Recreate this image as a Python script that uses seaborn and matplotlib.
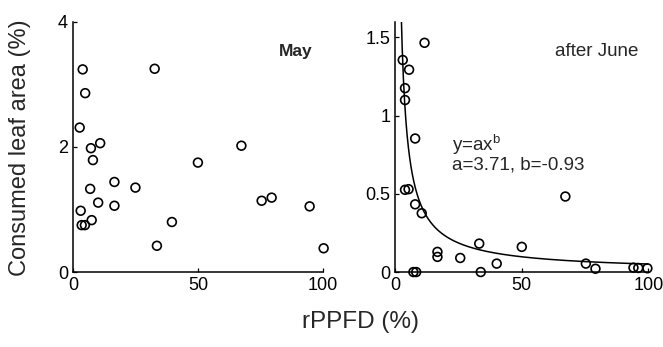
import numpy as np
import pandas as pd
import matplotlib
matplotlib.use("Agg")
import matplotlib.pyplot as plt
import seaborn as sns

sns.set_theme(style="ticks")
plt.rcParams['font.family'] = ['Liberation Sans', 'DejaVu Sans']

# May data
may_x = [3.9, 4.9, 2.7, 7.2, 10.9, 8.0, 6.9, 10.1, 16.6, 16.6, 3.1, 3.5, 4.8, 7.5,
         25.0, 32.7, 33.6, 39.6, 50.0, 67.4, 75.5, 79.5, 94.7, 100.3]
may_y = [3.24, 2.86, 2.31, 1.98, 2.06, 1.79, 1.33, 1.11, 1.44, 1.06, 0.98, 0.75, 0.75, 0.83,
         1.35, 3.25, 0.42, 0.80, 1.75, 2.02, 1.14, 1.19, 1.05, 0.38]

# after June data
jun_x = [11.6, 3.0, 5.5, 3.9, 3.9, 7.9, 3.9, 5.3, 7.9, 10.5, 16.7, 16.7, 25.7, 33.2,
         33.8, 40.1, 50.0, 67.2, 75.3, 79.1, 94.1, 96.0, 99.6, 7.2, 8.3]
jun_y = [1.466, 1.356, 1.294, 1.176, 1.10, 0.854, 0.526, 0.53, 0.433, 0.376, 0.129, 0.097,
         0.09, 0.182, 0.0, 0.054, 0.161, 0.483, 0.054, 0.021, 0.028, 0.026, 0.024, 0.0, 0.0]

fit_a, fit_b = 3.71, -0.93

x_ticks = [0, 50, 100]
may_yticks = [0, 2, 4]
jun_yticks = [0, 0.5, 1, 1.5]
jun_yticklabels = ["0", "0.5", "1", "1.5"]

fig = plt.figure(figsize=(6.63, 3.47), dpi=100)
ax1 = fig.add_axes([0.110, 0.216, 0.377, 0.721])
ax2 = fig.add_axes([0.596, 0.216, 0.382, 0.721])

mk = dict(s=40, facecolor="none", edgecolor="black", linewidth=1.2, marker="o", clip_on=False, zorder=3)

sns.scatterplot(x=may_x, y=may_y, ax=ax1, **mk)
sns.scatterplot(x=jun_x, y=jun_y, ax=ax2, **mk)

xs = np.linspace(2.3, 100, 400)
curve = pd.DataFrame({"x": xs, "y": fit_a * xs ** fit_b})
sns.lineplot(data=curve, x="x", y="y", ax=ax2, color="black", linewidth=1.1)

for ax in (ax1, ax2):
    ax.set_xlim(0, 100)
    ax.set_xticks(x_ticks)
    ax.set_xticklabels([str(t) for t in x_ticks])
    sns.despine(ax=ax)
    ax.tick_params(direction="in", length=3, width=0.9, labelsize=13, colors="black")
    for s in ("left", "bottom"):
        ax.spines[s].set_linewidth(1.1)
        ax.spines[s].set_color("black")
    ax.set_xlabel("")
    ax.set_ylabel("")

ax1.set_ylim(0, 4)
ax1.set_yticks(may_yticks)
ax1.set_yticklabels([str(t) for t in may_yticks])
ax2.set_ylim(0, 1.6)
ax2.set_yticks(jun_yticks)
ax2.set_yticklabels(jun_yticklabels)

ax1.text(96, 3.52, "May", ha="right", va="center", fontsize=12.5, fontweight="bold")
ax2.text(96, 1.408, "after June", ha="right", va="center", fontsize=13.5)
ax2.text(22.4, 0.76, "y=ax$^{\\mathregular{b}}$\na=3.71, b=-0.93", ha="left", va="center",
         fontsize=13.5, linespacing=0.95)

fig.text(0.03, 0.575, "Consumed leaf area (%)", rotation=90, ha="center", va="center", fontsize=17)
fig.text(0.543, 0.072, "rPPFD (%)", ha="center", va="center", fontsize=17.5)

fig.savefig("out.png", dpi=100)
